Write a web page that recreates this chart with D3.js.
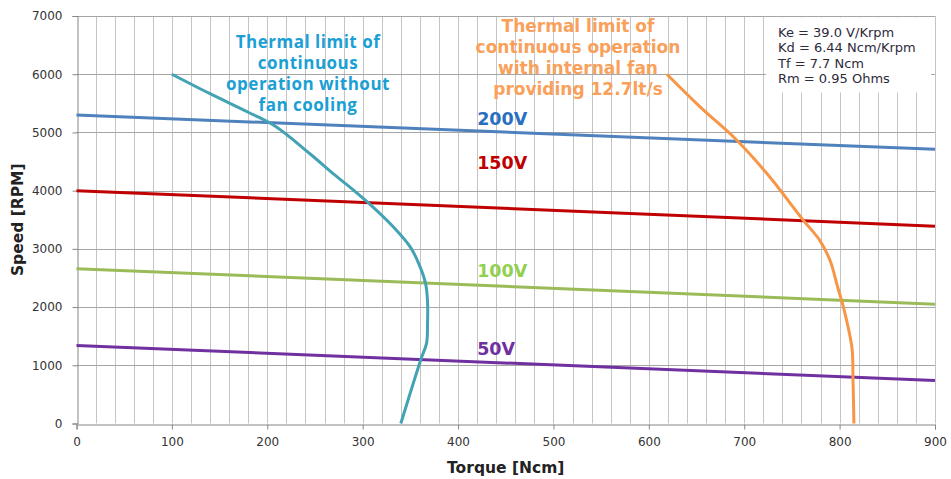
<!DOCTYPE html>
<html>
<head>
<meta charset="utf-8">
<script src="https://cdn.jsdelivr.net/npm/d3@7"></script>
<style>
  body { margin: 0; background: #fff; }
  svg { display: block; }
</style>
</head>
<body>
<div id="chart"></div>
<script>
// axis ticks
const xTicks = [0, 100, 200, 300, 400, 500, 600, 700, 800, 900];
const yTicks = [0, 1000, 2000, 3000, 4000, 5000, 6000, 7000];

// voltage lines: speed at torque 0 and 900
const voltLabels = ['200V', '150V', '100V', '50V'];
const voltTorque = [0, 900];
const voltSpeed = [
  [5300, 4710],
  [4000, 3390],
  [2660, 2050],
  [1340, 740]
];
const voltColors = ['#4f81bd', '#c00000', '#9bbb59', '#7030a0'];
const voltLabelColors = ['#2a6ebf', '#c00000', '#92d050', '#7030a0'];
const voltLabelSpeed = [5130, 4378, 2520, 1178];
const voltLabelTorque = 420;

// thermal limit without fan [torque, speed]
const noFanCurve = [
  [100, 6000], [140, 5665], [180, 5347], [208, 5110], [245, 4630],
  [270, 4280], [291, 4000], [308, 3760], [332, 3380], [350, 3030],
  [360, 2700], [366, 2400], [368, 2100], [368, 1700], [367, 1380],
  [361, 1100], [340, 0]
];
// thermal limit with internal fan
const fanCurve = [
  [619, 6000], [654, 5435], [692, 4870], [727, 4230], [762, 3490],
  [779, 3150], [790, 2800], [798, 2340], [804, 2000], [813, 1290],
  [814, 790], [815, 0]
];

const noFanText = ['Thermal limit of', 'continuous', 'operation without', 'fan cooling'];
const fanText = ['Thermal limit of', 'continuous operation', 'with internal fan', 'providing 12.7lt/s'];
const motorParams = ['Ke = 39.0 V/Krpm', 'Kd = 6.44 Ncm/Krpm', 'Tf = 7.7 Ncm', 'Rm = 0.95 Ohms'];

const width = 951, height = 479;
const margin = { top: 16, right: 16, bottom: 56, left: 76.5 };

const svg = d3.select('#chart').append('svg')
  .attr('width', width)
  .attr('height', height);

const x = d3.scaleLinear().domain([0, 900]).range([margin.left, width - margin.right]);
const y = d3.scaleLinear().domain([0, 7000]).range([height - margin.bottom + 0.5, margin.top]);

// minor vertical grid every 20 Ncm
svg.append('g')
  .selectAll('line')
  .data(d3.range(20, 901, 20))
  .join('line')
  .attr('x1', d => Math.round(x(d)) + 0.5)
  .attr('x2', d => Math.round(x(d)) + 0.5)
  .attr('y1', y(7000))
  .attr('y2', y(0))
  .attr('stroke', '#c4c4c4')
  .attr('stroke-width', 1);

// horizontal grid
svg.append('g')
  .selectAll('line')
  .data(yTicks.slice(1))
  .join('line')
  .attr('x1', x(0))
  .attr('x2', x(900))
  .attr('y1', d => Math.round(y(d)) + 0.5)
  .attr('y2', d => Math.round(y(d)) + 0.5)
  .attr('stroke', '#a6a6a6')
  .attr('stroke-width', 1);

// parameter box hides grid
svg.append('rect')
  .attr('x', 766)
  .attr('y', 17.5)
  .attr('width', 165)
  .attr('height', 75)
  .attr('fill', '#fff');

// axes
const xAxis = svg.append('g')
  .attr('transform', `translate(0,${Math.round(y(0)) + 0.5})`)
  .call(d3.axisBottom(x).tickValues(xTicks).tickSize(5).tickPadding(8));
const yAxis = svg.append('g')
  .attr('transform', `translate(${Math.round(x(0)) + 0.5},0)`)
  .call(d3.axisLeft(y).tickValues(yTicks).tickFormat(d3.format('d')).tickSize(5).tickPadding(10));

[xAxis, yAxis].forEach(g => {
  g.select('.domain').attr('stroke', '#868686');
  g.selectAll('.tick line').attr('stroke', '#868686');
  g.selectAll('.tick text')
    .attr('fill', '#333')
    .attr('font-family', 'DejaVu Sans, Verdana, sans-serif')
    .attr('font-size', 12);
});

// voltage lines
const line = d3.line().x(d => x(d[0])).y(d => y(d[1]));
voltSpeed.forEach((s, i) => {
  svg.append('path')
    .datum(voltTorque.map((t, j) => [t, s[j]]))
    .attr('d', line)
    .attr('fill', 'none')
    .attr('stroke', voltColors[i])
    .attr('stroke-width', 3);
  svg.append('text')
    .attr('x', x(voltLabelTorque))
    .attr('y', y(voltLabelSpeed[i]))
    .attr('fill', voltLabelColors[i])
    .attr('font-family', 'DejaVu Sans, Verdana, sans-serif')
    .attr('font-weight', 'bold')
    .attr('font-size', 17.5)
    .text(voltLabels[i]);
});

// thermal curves
const curve = d3.line().x(d => x(d[0])).y(d => y(d[1])).curve(d3.curveCatmullRom.alpha(0.5));
svg.append('path')
  .datum(noFanCurve)
  .attr('d', curve)
  .attr('fill', 'none')
  .attr('stroke', '#43a2b4')
  .attr('stroke-width', 3);
svg.append('path')
  .datum(fanCurve)
  .attr('d', curve)
  .attr('fill', 'none')
  .attr('stroke', '#f79646')
  .attr('stroke-width', 3);

// annotations
svg.append('g')
  .selectAll('text')
  .data(noFanText)
  .join('text')
  .attr('x', 308)
  .attr('y', (d, i) => 48 + i * 21)
  .attr('text-anchor', 'middle')
  .attr('fill', '#1aa0d4')
  .attr('font-family', 'Open Sans, sans-serif')
  .attr('font-weight', 'bold')
  .attr('font-size', 17)
  .attr('letter-spacing', 0.5)
  .text(d => d);

svg.append('g')
  .selectAll('text')
  .data(fanText)
  .join('text')
  .attr('x', 578)
  .attr('y', (d, i) => 32 + i * 21)
  .attr('text-anchor', 'middle')
  .attr('fill', '#f9a05a')
  .attr('font-family', 'DejaVu Sans, Verdana, sans-serif')
  .attr('font-weight', 'bold')
  .attr('font-size', 17)
  .text(d => d);

svg.append('g')
  .selectAll('text')
  .data(motorParams)
  .join('text')
  .attr('x', 778)
  .attr('y', (d, i) => 37 + i * 15.3)
  .attr('fill', '#2e2a3a')
  .attr('font-family', 'DejaVu Sans, Verdana, sans-serif')
  .attr('font-size', 13)
  .text(d => d);

// axis titles
svg.append('text')
  .attr('x', x(450))
  .attr('y', 473)
  .attr('text-anchor', 'middle')
  .attr('fill', '#222')
  .attr('font-family', 'DejaVu Sans, Verdana, sans-serif')
  .attr('font-weight', 'bold')
  .attr('font-size', 15.5)
  .text('Torque [Ncm]');

svg.append('text')
  .attr('transform', `translate(23,${y(3500)}) rotate(-90)`)
  .attr('text-anchor', 'middle')
  .attr('fill', '#222')
  .attr('font-family', 'DejaVu Sans, Verdana, sans-serif')
  .attr('font-weight', 'bold')
  .attr('font-size', 15.5)
  .text('Speed [RPM]');
</script>
</body>
</html>
